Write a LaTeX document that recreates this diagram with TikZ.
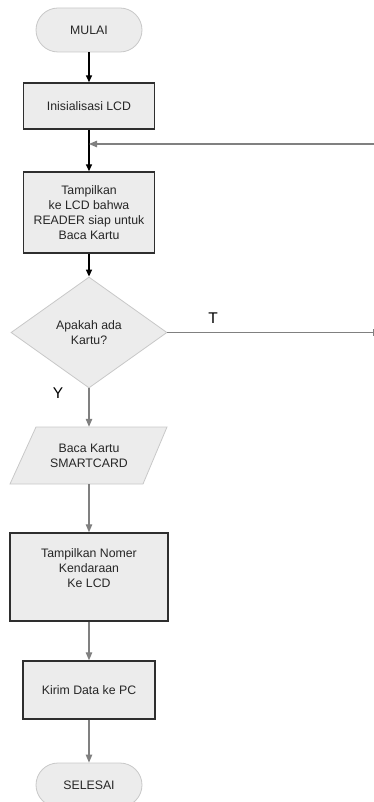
\documentclass[tikz,border=0pt]{standalone}
\usepackage{fontspec}
\setmainfont{Liberation Sans}
\usetikzlibrary{arrows.meta,shapes.geometric}
\definecolor{boxfill}{HTML}{ECECEC}
\definecolor{lightedge}{HTML}{C8C8C8}
\definecolor{darkedge}{HTML}{2E2E2E}
\definecolor{grayline}{HTML}{808080}
\tikzset{
  x=1pt, y=-1pt,
  txt/.style={font=\fontsize{12.3}{15}\selectfont, align=center, text=black!85, inner sep=0pt},
  termbox/.style={txt, draw=lightedge, fill=boxfill, line width=0.8pt, rounded corners=22pt, minimum width=106pt, minimum height=44pt},
  procbox/.style={txt, draw=darkedge, fill=boxfill, line width=1.4pt},
  decbox/.style={txt, diamond, draw=lightedge, fill=boxfill, line width=0.8pt, minimum width=156pt, minimum height=111pt},
  blackarrow/.style={draw=black, line width=1.4pt, -{Triangle[length=7pt,width=6pt]}},
  grayarrow/.style={draw=grayline, line width=1.1pt, -{Triangle[length=8pt,width=6.5pt]}},
  grayline/.style={draw=grayline, line width=1.1pt},
  bigl/.style={font=\fontsize{15.5}{15.5}\selectfont, inner sep=0pt},
}
\begin{document}
\begin{tikzpicture}
\useasboundingbox (0,0) rectangle (374,802);
\node[termbox] (start) at (89,30) {MULAI};
\node[procbox, minimum width=131pt, minimum height=46pt] (init) at (89,106) {Inisialisasi LCD};
\node[procbox, minimum width=131pt, minimum height=81pt] (disp) at (89,212.5) {Tampilkan\\ke LCD bahwa\\READER siap untuk\\Baca Kartu};
\node[decbox] (dec) at (89,332.5) {Apakah ada\\Kartu?};
\fill[boxfill, draw=lightedge, line width=0.8pt] (36,427) -- (167,427) -- (143,484) -- (10,484) -- cycle;
\node[txt, minimum width=100pt, minimum height=57pt] (read) at (89,455.5) {Baca Kartu\\SMARTCARD};
\node[procbox, minimum width=158pt, minimum height=88pt] (show) at (89,577) {};
\node[txt] (showt) at (89,568) {Tampilkan Nomer\\Kendaraan\\Ke LCD};
\node[procbox, minimum width=132pt, minimum height=58pt] (send) at (89,690) {Kirim Data ke PC};
\node[termbox] (end) at (89,785) {SELESAI};

\node[bigl] (tlab) at (213,318) {T};
\node[bigl] (ylab) at (58,393) {Y};

\coordinate (loopR) at (375.5,144);
\coordinate (decR) at (375.5,332.5);
\coordinate (junc) at (89,144);

\draw[blackarrow] (start) -- (init);
\draw[blackarrow] (init) -- (disp);
\draw[blackarrow] (disp) -- (dec);
\draw[grayarrow] (dec.south) -- (read.north);
\draw[grayarrow] (read.south) -- (show.north);
\draw[grayarrow] (show.south) -- (send.north);
\draw[grayarrow] (send.south) -- (end.north);
\draw[grayline] (dec.east) -- (decR) -- (loopR);
\draw[grayarrow] (loopR) -- (junc);
\draw[grayline, line width=0.8pt] (373.3,329) -- (373.3,336);
\end{tikzpicture}
\end{document}
